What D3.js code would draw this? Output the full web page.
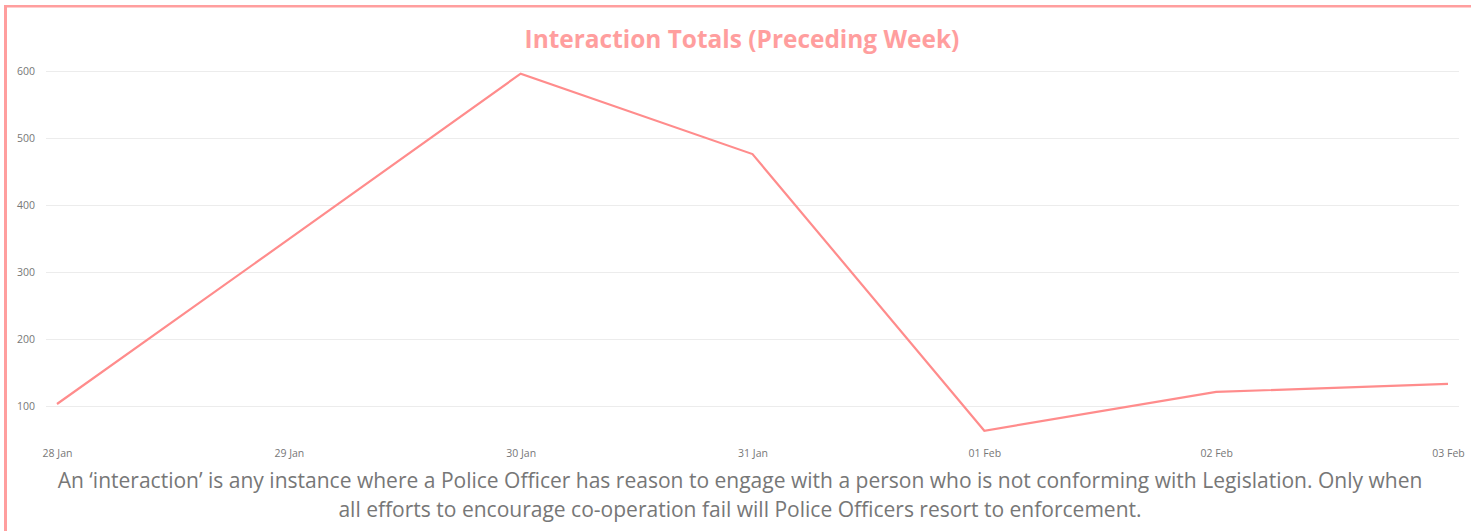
<!DOCTYPE html>
<html><head><meta charset="utf-8">
<script src="https://cdn.jsdelivr.net/npm/d3@7"></script>
<style>html,body{margin:0;padding:0;background:#fff;overflow:hidden}</style>
</head><body>
<svg id="chart" width="1471" height="531"></svg>
<script>
const categories = ["28 Jan","29 Jan","30 Jan","31 Jan","01 Feb","02 Feb","03 Feb"];
const interactions = [103, 349, 596, 476, 63, 121, 133];
const yTicks = [100, 200, 300, 400, 500, 600];
const titleText = "Interaction Totals (Preceding Week)";
const noteLines = [
  "An \u2018interaction\u2019 is any instance where a Police Officer has reason to engage with a person who is not conforming with Legislation. Only when",
  "all efforts to encourage co-operation fail will Police Officers resort to enforcement."
];

const svg = d3.select("#chart");
const pink = "#ff9e9e";
const lineCol = "#ff8c8c";

// frame
svg.append("rect").attr("x",4).attr("y",5).attr("width",3).attr("height",526).attr("fill",pink);
svg.append("rect").attr("x",4).attr("y",5).attr("width",1467).attr("height",2.5).attr("fill",pink);

const x = d3.scalePoint().domain(categories).range([57, 1448]);
const y = d3.scaleLinear().domain([0, 600]).range([473, 71]);

// grid
const grid = d3.axisLeft(y).tickValues(yTicks).tickSize(-(1459-46)).tickFormat("");
svg.append("g").attr("transform","translate(46,0)").call(grid)
  .call(g=>g.select(".domain").remove())
  .call(g=>g.selectAll("line").attr("stroke","#ececec").attr("stroke-width",1));

// y labels
const yAx = d3.axisLeft(y).tickValues(yTicks).tickSize(0).tickPadding(0);
svg.append("g").attr("transform","translate(35,0)").call(yAx)
  .call(g=>g.select(".domain").remove())
  .call(g=>g.selectAll("text").attr("fill","#777").attr("font-family","'Open Sans', sans-serif").attr("font-size",10.5));

// x labels
const xAx = d3.axisBottom(x).tickSize(0).tickPadding(0);
svg.append("g").attr("transform","translate(0,450)").call(xAx)
  .call(g=>g.select(".domain").remove())
  .call(g=>g.selectAll("text").attr("fill","#777").attr("font-family","'Open Sans', sans-serif").attr("font-size",10.5));

// line
const line = d3.line().x((d,i)=>x(categories[i])).y(d=>y(d));
svg.append("path").datum(interactions).attr("d",line)
  .attr("fill","none").attr("stroke",lineCol).attr("stroke-width",2.2).attr("stroke-linejoin","miter");

// title
const t = svg.append("text").attr("x",742).attr("y",48).attr("text-anchor","middle")
  .attr("font-family","'Open Sans', sans-serif").attr("font-weight","bold").attr("font-size",25)
  .attr("fill",pink).text(titleText);
let tw = t.node().getComputedTextLength();
t.attr("font-size", 25*435/tw);

// note
const n1 = svg.append("text").attr("x",740).attr("y",488).attr("text-anchor","middle")
  .attr("font-family","'Open Sans', sans-serif").attr("font-size",20).attr("fill","#777").text(noteLines[0]);
const w1 = n1.node().getComputedTextLength();
const fs = 20*1366/w1;
n1.attr("font-size",fs);
svg.append("text").attr("x",740).attr("y",517).attr("text-anchor","middle")
  .attr("font-family","'Open Sans', sans-serif").attr("font-size",fs).attr("fill","#777").text(noteLines[1]);
</script>
</body></html>
